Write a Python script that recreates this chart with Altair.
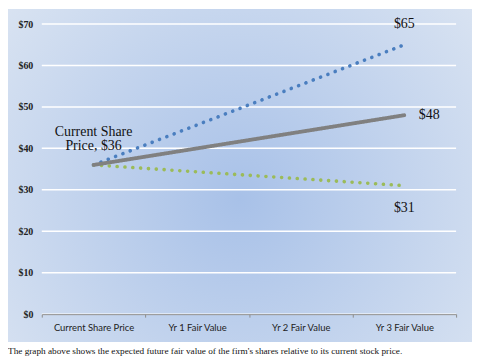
import altair as alt
import pandas as pd

categories = ["Current Share Price", "Yr 1 Fair Value", "Yr 2 Fair Value", "Yr 3 Fair Value"]
series_names = ["High", "Base", "Low"]
start_values = [36, 36, 36]
end_values = [65, 48, 31]
y_ticks = [0, 10, 20, 30, 40, 50, 60, 70]
caption = "The graph above shows the expected future fair value of the firm's shares relative to its current stock price."

rows = []
for s, a, b in zip(series_names, start_values, end_values):
    rows.append({"series": s, "cat": categories[0], "value": a})
    rows.append({"series": s, "cat": categories[3], "value": b})
df = pd.DataFrame(rows)

W, H = 417, 292
xscale = alt.Scale(domain=categories, paddingInner=0, paddingOuter=0)
yscale = alt.Scale(domain=[0, 70], nice=False)

bg_gradient = {
    "gradient": "radial",
    "stops": [
        {"offset": 0, "color": "#a8c1e8"},
        {"offset": 1, "color": "#e0e8f3"},
    ],
    "x1": 0.5, "y1": 0.55, "r1": 0,
    "x2": 0.5, "y2": 0.55, "r2": 0.75,
}

one = pd.DataFrame({"a": [0]})
bg = alt.Chart(one).mark_rect(fill=bg_gradient, clip=False).encode(
    x=alt.value(-34), x2=alt.value(W + 16), y=alt.value(-15), y2=alt.value(H + 28)
)

grid = alt.Chart(pd.DataFrame({"t": y_ticks})).mark_rule(color="white", strokeWidth=1.5).encode(
    y=alt.Y("t:Q", scale=yscale,
            axis=alt.Axis(values=y_ticks, labelExpr="'$' + datum.value", title=None,
                          domain=False, ticks=False, grid=False, labelPadding=9,
                          labelFont="Liberation Serif", labelFontWeight="bold",
                          labelFontSize=10, labelColor="#222", zindex=2)),
    x=alt.value(0), x2=alt.value(W),
)

def line(name, color, width, dash):
    return alt.Chart(df).transform_filter(alt.datum.series == name).mark_line(
        color=color, strokeWidth=width, strokeDash=dash, strokeCap="round"
    ).encode(
        x=alt.X("cat:N", scale=xscale, sort=categories,
                axis=alt.Axis(title=None, labelAngle=0, domainColor="#8c8c8c",
                              tickColor="#8c8c8c", tickSize=3, tickBand="extent",
                              labelFont="Lato", labelFontSize=9.5, labelColor="#222",
                              labelPadding=5, zindex=2)),
        y=alt.Y("value:Q", scale=yscale),
    )

blue = line("High", "#4a7ebf", 3.6, [0.1, 7.8])
green = line("Low", "#9bbb59", 3.6, [0.1, 7.8])
grey = line("Base", "#808080", 3.8, [1, 0])

def label(text, cat, val, dx, dy, size=14):
    d = pd.DataFrame({"cat": [cat], "value": [val], "label": [text]})
    return alt.Chart(d).mark_text(
        font="Liberation Serif", fontSize=size, color="#111", dx=dx, dy=dy,
        baseline="middle", align="center", lineBreak="\n", lineHeight=14
    ).encode(x=alt.X("cat:N", scale=xscale, sort=categories),
             y=alt.Y("value:Q", scale=yscale), text="label:N")

lab_start = label("Current Share\nPrice, $36", categories[0], start_values[0], 0, -33)
lab_hi = label("$" + str(end_values[0]), categories[3], end_values[0], 0, -21)
lab_base = label("$" + str(end_values[1]), categories[3], end_values[1], 25, 0)
lab_lo = label("$" + str(end_values[2]), categories[3], end_values[2], 0, 22)

cap = alt.Chart(pd.DataFrame({"c": [caption]})).mark_text(
    font="Liberation Serif", fontSize=9.3, color="#111", align="left", baseline="middle"
).encode(x=alt.value(-34), y=alt.value(H + 37), text="c:N")

chart = alt.layer(bg, grid, blue, green, grey, lab_start, lab_hi, lab_base, lab_lo, cap).properties(
    width=W, height=H, padding=0, background="white"
).configure_view(stroke=None)

chart.save("out.html", embed_options={"renderer": "svg", "actions": False})
